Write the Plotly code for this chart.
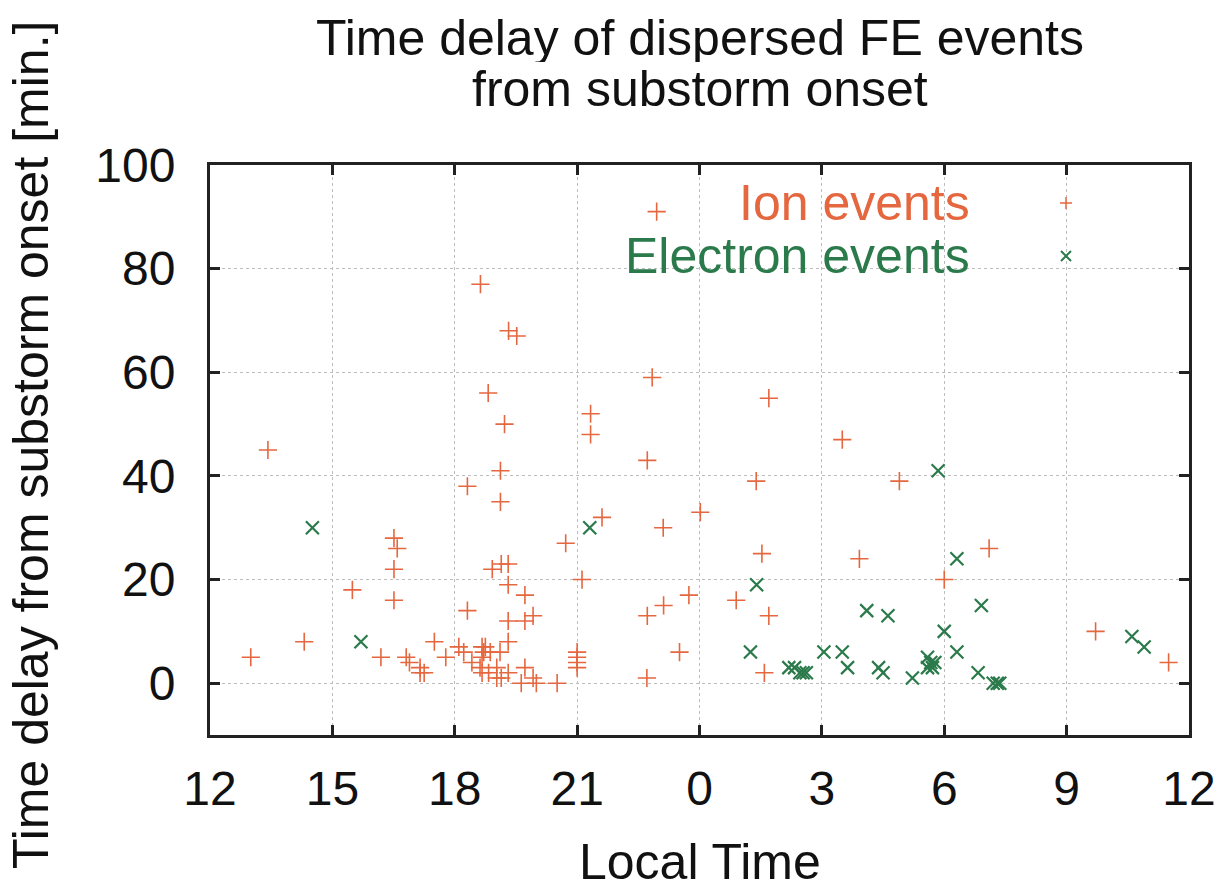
import plotly.graph_objects as go

# Local time (hours, 0-24) and delay after substorm onset (minutes)
ion_lt = [13.0, 13.42, 14.31, 15.49, 16.19, 16.51, 16.59, 16.51, 16.51, 16.81,
          16.89, 17.15, 17.15, 17.25, 17.5, 17.78, 18.1, 18.22, 18.31, 18.31,
          18.42, 18.62, 18.63, 18.67, 18.71, 18.67, 18.75, 18.67, 18.82, 18.83,
          18.87, 18.92, 19.03, 19.03, 19.11, 19.12, 19.12, 19.14, 19.14, 19.22,
          19.31, 19.31, 19.31, 19.31, 19.31, 19.32, 19.52, 19.63, 19.72, 19.72,
          19.72, 19.92, 19.92, 20.0, 20.51, 20.72, 21.0, 21.0, 21.0, 21.0,
          21.12, 21.33, 21.33, 21.61, 22.71, 22.72, 22.72, 22.84, 22.95, 23.11,
          23.12, 23.51, 23.74, 0.02, 0.9, 1.39, 1.53, 1.59, 1.7, 1.7,
          3.5, 3.92, 4.9, 6.0, 7.1, 9.71, 11.5]
ion_delay = [5, 45, 8, 18, 5, 28, 26, 22, 16, 5,
             4, 3, 2, 2, 8, 5, 7, 6, 38, 14,
             4, 3, 77, 7, 6, 5, 7, 2, 56, 2,
             6, 22, 3, 1, 6, 41, 35, 23, 1, 50,
             23, 19, 12, 8, 2, 68, 67, 0, 17, 12,
             3, 13, 1, 0, 0, 27, 6, 5, 4, 3,
             20, 52, 48, 32, 1, 43, 13, 59, 91, 30,
             15, 6, 17, 33, 16, 39, 25, 2, 13, 55,
             47, 24, 39, 20, 26, 10, 4]

elec_lt = [14.51, 15.7, 21.31, 1.25, 1.4, 2.19, 2.33, 2.46, 2.54, 2.62,
           3.05, 3.5, 3.63, 4.1, 4.39, 4.5, 4.62, 5.22, 5.59, 5.67,
           5.71, 5.59, 5.77, 5.85, 6.0, 6.31, 6.31, 6.83, 6.91, 7.2,
           7.3, 7.36, 10.6, 10.9]
elec_delay = [30, 8, 30, 6, 19, 3, 3, 2, 2, 2,
              6, 6, 3, 14, 3, 2, 13, 1, 5, 4,
              3, 3, 4, 41, 10, 24, 6, 2, 15, 0,
              0, 0, 9, 7]

x_tick_vals = [12, 15, 18, 21, 24, 27, 30, 33, 36]
x_tick_text = ["12", "15", "18", "21", "0", "3", "6", "9", "12"]
y_tick_vals = [0, 20, 40, 60, 80, 100]

ION_COLOR = "#e5673f"
ELEC_COLOR = "#2b7a4b"
FONT = "Liberation Sans, Arial, Helvetica, sans-serif"


def unwrap(lt):
    # noon-to-noon axis: morning hours continue past midnight
    return [h if h >= 12 else h + 24 for h in lt]


fig = go.Figure()
fig.add_trace(go.Scatter(
    x=unwrap(ion_lt), y=ion_delay, mode="markers", name="Ion events",
    marker=dict(symbol="cross-thin-open", size=13, color=ION_COLOR,
                line=dict(color=ION_COLOR, width=1.6)),
))
fig.add_trace(go.Scatter(
    x=unwrap(elec_lt), y=elec_delay, mode="markers", name="Electron events",
    marker=dict(symbol="x-thin-open", size=13, color=ELEC_COLOR,
                line=dict(color=ELEC_COLOR, width=2.2)),
))

# plot-area geometry (pixels)
W, H = 1231, 890
L, R, T, B = 210, 42, 165, 155
pw, ph = W - L - R, H - T - B


def px_x(p):
    return (p - L) / pw


def px_y(p):
    return (H - B - p) / ph


# opaque key box hiding the grid behind the key
shapes = [dict(type="rect", xref="paper", yref="paper", layer="between",
               x0=px_x(517), x1=px_x(1160), y0=px_y(283), y1=1.0,
               fillcolor="white", line=dict(width=0))]

# key samples
for yy, kind, col, wd in [(203, "+", ION_COLOR, 1.5), (256, "x", ELEC_COLOR, 2)]:
    if kind == "+":
        path = "M-6,0 L6,0 M0,-6 L0,6"
    else:
        path = "M-5,-5 L5,5 M-5,5 L5,-5"
    shapes.append(dict(type="path", xref="paper", yref="paper",
                       xsizemode="pixel", ysizemode="pixel",
                       xanchor=px_x(1066), yanchor=px_y(yy), path=path,
                       line=dict(color=col, width=wd)))

annotations = [
    dict(text="Time delay of dispersed FE events", xref="paper", yref="paper",
         x=0.5, y=px_y(38), xanchor="center", yanchor="middle", showarrow=False,
         height=48, valign="middle",
         font=dict(size=50, color="#111", family=FONT)),
    dict(text="from substorm onset", xref="paper", yref="paper",
         x=0.5, y=px_y(89), xanchor="center", yanchor="middle", showarrow=False,
         height=48, valign="middle",
         font=dict(size=50, color="#111", family=FONT)),
    dict(text="Local Time", xref="paper", yref="paper",
         x=0.5, y=px_y(862), xanchor="center", yanchor="middle", showarrow=False,
         font=dict(size=50, color="#111", family=FONT)),
    dict(text="Time delay from substorm onset [min.]", xref="paper", yref="paper",
         x=px_x(31), y=px_y(445), xanchor="center", yanchor="middle",
         textangle=-90, showarrow=False,
         font=dict(size=50, color="#111", family=FONT)),
    dict(text="Ion events", xref="paper", yref="paper",
         x=px_x(972), y=px_y(203), xanchor="right", yanchor="middle",
         showarrow=False, font=dict(size=50, color=ION_COLOR, family=FONT)),
    dict(text="Electron events", xref="paper", yref="paper",
         x=px_x(972), y=px_y(256), xanchor="right", yanchor="middle",
         showarrow=False, font=dict(size=50, color=ELEC_COLOR, family=FONT)),
]

axis_common = dict(
    showline=True, linecolor="#222", linewidth=3, mirror="ticks",
    ticks="inside", ticklen=10, tickwidth=3, tickcolor="#222",
    showgrid=True, gridcolor="#bdbdbd", griddash="dot", gridwidth=1,
    zeroline=False, tickfont=dict(size=48, color="#111", family=FONT),
)

fig.update_layout(
    width=W, height=H,
    margin=dict(l=L, r=R, t=T, b=B),
    paper_bgcolor="white", plot_bgcolor="white",
    showlegend=False,
    xaxis=dict(range=[12, 36], tickvals=x_tick_vals, ticktext=x_tick_text,
               ticklabelstandoff=9, **axis_common),
    yaxis=dict(range=[-10, 100], tickvals=y_tick_vals,
               ticklabelstandoff=22, **axis_common),
    shapes=shapes,
    annotations=annotations,
)

fig.write_html("out.html")
